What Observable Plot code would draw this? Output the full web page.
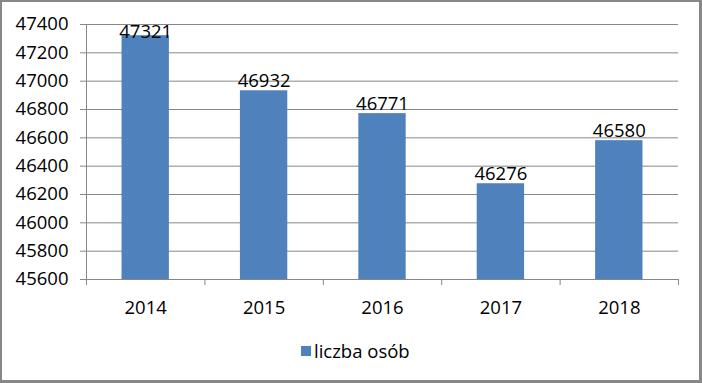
<!DOCTYPE html>
<html>
<head>
<meta charset="utf-8">
<script src="https://cdn.jsdelivr.net/npm/d3@7"></script>
<script src="https://cdn.jsdelivr.net/npm/@observablehq/plot@0.6"></script>
<style>
  html, body { margin: 0; padding: 0; background: #fff; }
  #wrap { position: relative; width: 702px; height: 383px; overflow: hidden; background: #fff; font-family: "Open Sans", sans-serif; }
  #frame { position: absolute; left: 0; top: 0; width: 702px; height: 383px; box-sizing: border-box;
           border-top: 2px solid #878787; border-left: 2px solid #878787; border-right: 3px solid #878787; border-bottom: 3px solid #878787; pointer-events: none; }
  #legend { position: absolute; left: 301px; top: 338px; font-size: 18.5px; color: #000; white-space: nowrap; }
  #legend .sw { position: absolute; left: 0; top: 8px; width: 10px; height: 10px; background: #4F81BD; }
  #legend .lb { position: absolute; left: 13px; top: 0; }
</style>
</head>
<body>
<div id="wrap"><div id="chart"></div><div id="legend"><span class="sw"></span><span class="lb">liczba osób</span></div><div id="frame"></div></div>
<script>
const years = ["2014", "2015", "2016", "2017", "2018"];
const values = [47321, 46932, 46771, 46276, 46580];
const yTicks = [45600, 45800, 46000, 46200, 46400, 46600, 46800, 47000, 47200, 47400];
const seriesName = "liczba osób";

const data = years.map((y, i) => ({year: y, i, value: values[i]}));
const yMin = 45600, yMax = 47400;
const gray = "#868686";

const chart = Plot.plot({
  width: 702,
  height: 383,
  marginLeft: 86,
  marginRight: 24,
  marginTop: 24,
  marginBottom: 104,
  style: {fontFamily: "'Open Sans', sans-serif", fontSize: "18.5px", color: "#000", background: "transparent"},
  x: {type: "linear", domain: [0, years.length], axis: null},
  y: {domain: [yMin, yMax], axis: null},
  marks: [
    Plot.gridY(yTicks, {stroke: gray, strokeOpacity: 1, strokeWidth: 1}),
    Plot.rectY(data, {x1: d => d.i + 0.3, x2: d => d.i + 0.7, y1: yMin, y2: "value", fill: "#4F81BD"}),
    Plot.ruleY([yMin], {stroke: gray, strokeWidth: 1}),
    Plot.ruleX([0], {stroke: gray, strokeWidth: 1}),
    Plot.axisY({ticks: yTicks, tickSize: 6, tickPadding: 12, stroke: gray, fill: "#000", tickFormat: d => String(d), fontSize: 18.5, label: null}),
    Plot.axisX({ticks: d3.range(0, years.length + 1), tickSize: 6, tickFormat: () => "", stroke: gray, label: null}),
    Plot.axisX({ticks: years.map((_, i) => i + 0.5), tickSize: 0, tickPadding: 21, fill: "#000", tickFormat: t => years[Math.floor(t)], fontSize: 18.5, label: null}),
    Plot.text(data, {x: d => d.i + 0.5, y: d => Math.min(d.value, 47280), text: d => String(d.value), lineAnchor: "bottom", dy: -4, fill: "#000", fontSize: 18.5})
  ]
});
document.getElementById("chart").appendChild(chart);
</script>
</body>
</html>
